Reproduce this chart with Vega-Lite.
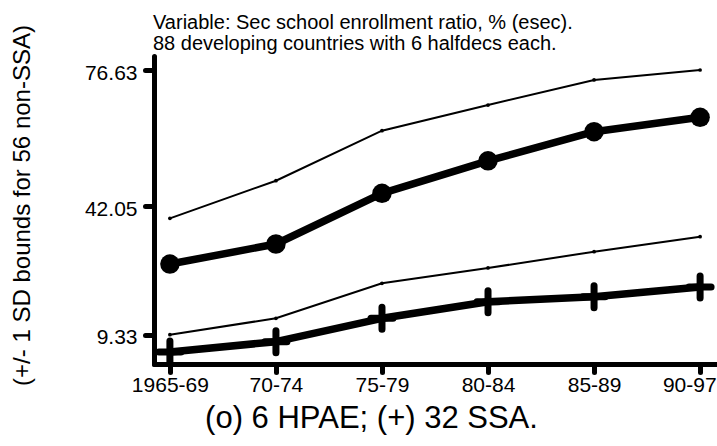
{
  "$schema": "https://vega.github.io/schema/vega-lite/v6.json",
  "width": 562,
  "height": 308,
  "autosize": {"type": "none"},
  "padding": {"left": 154, "top": 56, "right": 1, "bottom": 82},
  "background": "white",
  "title": {
    "text": ["Variable: Sec school enrollment ratio, % (esec).", "88 developing countries with 6 halfdecs each."],
    "anchor": "start",
    "frame": "group",
    "font": "Liberation Sans",
    "fontSize": 20,
    "fontWeight": "normal",
    "lineHeight": 21,
    "color": "black",
    "offset": 8,
    "dx": -1,
    "dy": 37
  },
  "data": {
    "values": [
      {"period": "1965-69", "hpae": 27.30, "ssa": 4.93, "upper": 38.92, "lower": 9.33},
      {"period": "70-74", "hpae": 32.39, "ssa": 7.55, "upper": 48.48, "lower": 13.50},
      {"period": "75-79", "hpae": 45.28, "ssa": 13.50, "upper": 61.20, "lower": 22.40},
      {"period": "80-84", "hpae": 53.54, "ssa": 17.72, "upper": 67.73, "lower": 26.29},
      {"period": "85-89", "hpae": 60.94, "ssa": 18.99, "upper": 74.09, "lower": 30.43},
      {"period": "90-97", "hpae": 64.60, "ssa": 21.46, "upper": 76.63, "lower": 34.24}
    ]
  },
  "encoding": {
    "x": {
      "field": "period",
      "type": "ordinal",
      "sort": null,
      "scale": {"type": "point", "padding": 0.15},
      "axis": {
        "title": "(o) 6 HPAE; (+) 32 SSA.",
        "titleFont": "Liberation Sans",
        "titleFontSize": 31,
        "titleFontWeight": "normal",
        "titleColor": "black",
        "titleX": 217,
        "titleY": 54,
        "titleAnchor": null,
        "titleAlign": "center",
        "titleBaseline": "middle",
        "labelAngle": 0,
        "labelFont": "Liberation Sans",
        "labelFontSize": 21,
        "labelColor": "black",
        "labelPadding": 2,
        "labelOverlap": false,
        "labelAlign": {"condition": {"test": "datum.value === '90-97'", "value": "right"}, "value": "center"},
        "labelOffset": {"condition": {"test": "datum.value === '90-97'", "value": 16}, "value": 0},
        "tickSize": 8,
        "tickWidth": 5,
        "tickCap": "round",
        "tickColor": "black",
        "domainColor": "black",
        "domainWidth": 5,
        "domainCap": "round",
        "grid": false
      }
    }
  },
  "layer": [
    {
      "mark": {"type": "line", "color": "black", "strokeWidth": 2, "point": {"filled": true, "size": 14, "color": "black"}},
      "encoding": {
        "y": {
          "field": "upper",
          "type": "quantitative",
          "scale": {"domain": [1.88, 80.19], "nice": false, "zero": false},
          "axis": {
            "values": [9.33, 42.05, 76.63],
            "format": ".2f",
            "title": "(+/- 1 SD bounds for 56 non-SSA)",
            "titleFont": "Liberation Sans",
            "titleFontSize": 24,
            "titleFontWeight": "normal",
            "titleColor": "black",
            "titleAngle": -90,
            "titleX": -132,
            "titleY": 149,
            "titleAnchor": null,
            "titleAlign": "center",
            "titleBaseline": "middle",
            "labelFont": "Liberation Sans",
            "labelFontSize": 21,
            "labelColor": "black",
            "labelPadding": 8,
            "labelOffset": 3,
            "tickSize": 9,
            "tickWidth": 5,
            "tickCap": "round",
            "tickColor": "black",
            "domainColor": "black",
            "domainWidth": 5,
            "domainCap": "round",
            "grid": false
          }
        }
      }
    },
    {
      "mark": {"type": "line", "color": "black", "strokeWidth": 2, "point": {"filled": true, "size": 14, "color": "black"}},
      "encoding": {"y": {"field": "lower", "type": "quantitative"}}
    },
    {
      "mark": {"type": "line", "color": "black", "strokeWidth": 7.5, "strokeCap": "round", "strokeJoin": "round"},
      "encoding": {"y": {"field": "hpae", "type": "quantitative"}}
    },
    {
      "mark": {"type": "point", "shape": "circle", "filled": true, "color": "black", "opacity": 1, "size": 380},
      "encoding": {"y": {"field": "hpae", "type": "quantitative"}}
    },
    {
      "mark": {"type": "line", "color": "black", "strokeWidth": 7.5, "strokeCap": "round", "strokeJoin": "round"},
      "encoding": {"y": {"field": "ssa", "type": "quantitative"}}
    },
    {
      "mark": {"type": "point", "shape": "M0,-1L0,1M-1,0L1,0", "filled": false, "stroke": "black", "strokeWidth": 7, "strokeCap": "round", "opacity": 1, "size": 484},
      "encoding": {"y": {"field": "ssa", "type": "quantitative"}}
    }
  ],
  "config": {
    "view": {"stroke": null}
  }
}
